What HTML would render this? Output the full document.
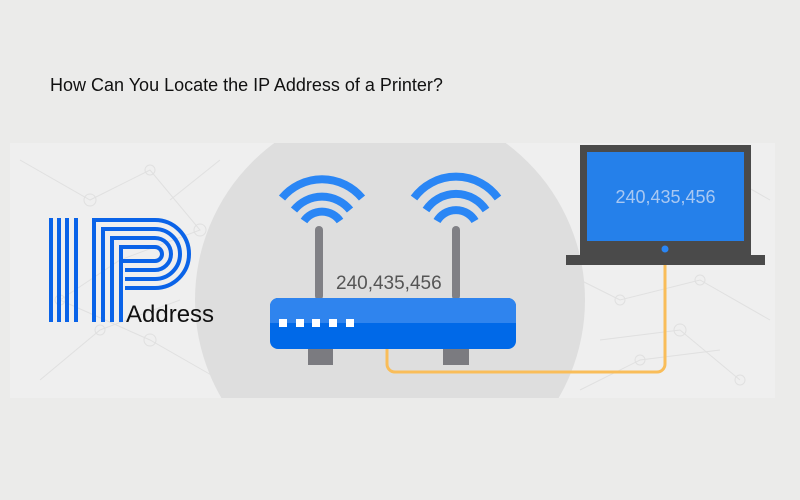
<!DOCTYPE html>
<html><head><style>
body{margin:0;width:800px;height:500px;background:#ebebea;overflow:hidden;font-family:"Liberation Sans",sans-serif}
</style></head><body>
<svg width="800" height="500" viewBox="0 0 800 500" xmlns="http://www.w3.org/2000/svg" style="position:absolute;left:0;top:0">
<text x="50" y="91" font-size="18" fill="#111" font-family="Liberation Sans, sans-serif">How Can You Locate the IP Address of a Printer?</text>
<rect x="10" y="143" width="765" height="255" fill="#efefef"/>
<clipPath id="c"><rect x="10" y="143" width="765" height="255"/></clipPath>
<g clip-path="url(#c)" stroke="#e0e0e0" stroke-width="1" fill="none">
<path d="M20 160 L90 200 L150 170 L200 230 L120 260 L60 300 L150 340 L220 380 M40 380 L100 330 L180 300 M220 160 L170 200 M560 270 L620 300 L700 280 L770 320 M600 340 L680 330 L740 380 M580 390 L640 360 L720 350 M700 160 L770 200 M760 260 L720 240"/>
<circle cx="90" cy="200" r="6"/><circle cx="150" cy="170" r="5"/><circle cx="200" cy="230" r="6"/><circle cx="60" cy="300" r="5"/><circle cx="150" cy="340" r="6"/><circle cx="100" cy="330" r="5"/><circle cx="620" cy="300" r="5"/><circle cx="700" cy="280" r="5"/><circle cx="680" cy="330" r="6"/><circle cx="640" cy="360" r="5"/><circle cx="740" cy="380" r="5"/>
</g>
<circle cx="390" cy="300" r="195" fill="#dedede" clip-path="url(#c)"/>
<!-- IP logo -->
<g stroke="#0a63e8" stroke-width="4" fill="none">
<line x1="51" y1="218" x2="51" y2="322"/><line x1="59" y1="218" x2="59" y2="322"/><line x1="67" y1="218" x2="67" y2="322"/><line x1="76" y1="218" x2="76" y2="322"/>
<path d="M94 322 V220 H155 A34 34 0 0 1 155 288 H125"/>
<path d="M103 322 V229 H155 A25 25 0 0 1 155 279 H125"/>
<path d="M112 322 V238 H155 A16 16 0 0 1 155 270 H125"/>
<path d="M121 322 V247 H155 A7 7 0 0 1 155 261 H121"/>
</g>
<text x="126" y="322" font-size="24" fill="#111">Address</text>
<!-- antennas -->
<rect x="315" y="226" width="8" height="74" rx="4" fill="#808085"/>
<rect x="452" y="226" width="8" height="74" rx="4" fill="#808085"/>
<g stroke="#2a86f5" stroke-width="8" fill="none">
<path d="M282 198 A52 52 0 0 1 362 198"/><path d="M294 210 A36 36 0 0 1 350 210"/><path d="M304 221 A22 22 0 0 1 340 221"/>
<path d="M414 198 A52 52 0 0 1 498 198"/><path d="M426 210 A36 36 0 0 1 486 210"/><path d="M437 221 A22 22 0 0 1 475 221"/>
</g>
<text x="336" y="289" font-size="19" fill="#555">240,435,456</text>
<!-- cable -->
<path d="M665 262 V364 A8 8 0 0 1 657 372 H395 A8 8 0 0 1 387 364 V345" stroke="#f9bd59" stroke-width="3" fill="none"/>
<!-- router -->
<rect x="308" y="345" width="25" height="20" fill="#7b7b80"/>
<rect x="443" y="345" width="26" height="20" fill="#7b7b80"/>
<rect x="270" y="298" width="246" height="51" rx="8" fill="#0069e8"/>
<path d="M278 298 H508 A8 8 0 0 1 516 306 V323 H270 V306 A8 8 0 0 1 278 298Z" fill="#2f84ee"/>
<g fill="#fff"><rect x="279" y="319" width="8" height="8"/><rect x="296" y="319" width="8" height="8"/><rect x="312" y="319" width="8" height="8"/><rect x="329" y="319" width="8" height="8"/><rect x="346" y="319" width="8" height="8"/></g>
<!-- laptop -->
<rect x="580" y="145" width="171" height="110" fill="#4a4a4a"/>
<rect x="587" y="152" width="157" height="89" fill="#2580ea"/>
<rect x="566" y="255" width="199" height="10" fill="#4a4a4a"/>
<circle cx="665" cy="249" r="3.5" fill="#2a86f5"/>
<text x="665.5" y="203" font-size="18" fill="#a9c8f2" text-anchor="middle">240,435,456</text>
</svg>
</body></html>
